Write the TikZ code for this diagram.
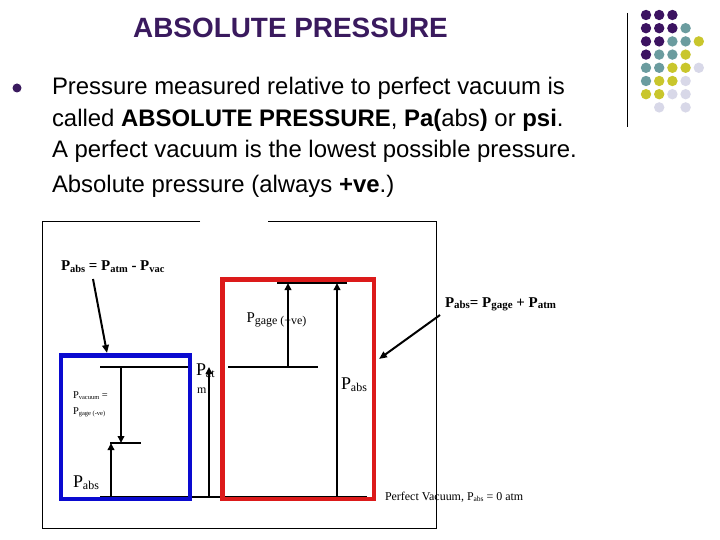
\documentclass[tikz,border=0pt]{standalone}
\usepackage{fontspec}
\setmainfont{Liberation Sans}
\newfontfamily\seriffam{Liberation Serif}
\usetikzlibrary{arrows.meta}
\definecolor{titlepurple}{HTML}{3A1A5E}
\definecolor{dP}{HTML}{3C1361}
\definecolor{dT}{HTML}{6B9C9F}
\definecolor{dY}{HTML}{C9C62C}
\definecolor{dL}{HTML}{D8D8E8}
\definecolor{boxblue}{HTML}{0A0AD0}
\definecolor{boxred}{HTML}{DC1A1A}
\newcommand{\fsz}[1]{\fontsize{#1}{#1}\selectfont}
\newcommand{\lowtxt}[3]{\raisebox{-#1}{\fsz{#2}#3}}
\begin{document}
\begin{tikzpicture}[x=1bp,y=-1bp,
  every node/.style={inner sep=0pt, outer sep=0pt},
  thinline/.style={line width=1.3bp, black},
  arr/.style={line width=2.6bp, black, -{Triangle[length=7bp,width=6.5bp]}},
  slantarr/.style={line width=2bp, black, -{Triangle[length=8bp,width=6.5bp]}},
  bodytxt/.style={anchor=base west, font=\fsz{24}},
  lbl/.style={anchor=base west, font=\seriffam}]
\useasboundingbox (0,0) rectangle (720,540);
\fill[white] (0,0) rectangle (720,540);

% title and text
\node[anchor=base, text=titlepurple, font=\fsz{28}\bfseries] (title) at (290.5,38) {ABSOLUTE PRESSURE};
\node[circle, fill=titlepurple, minimum size=9bp] (bullet) at (17,88) {};
\node[bodytxt] (l1) at (52,95) {Pressure measured relative to perfect vacuum is};
\node[bodytxt] (l2) at (52,127) {called \textbf{ABSOLUTE PRESSURE}, \textbf{Pa(}abs\textbf{)} or \textbf{psi}.};
\node[bodytxt] (l3) at (52,158) {A perfect vacuum is the lowest possible pressure.};
\node[bodytxt] (l4) at (52,193) {Absolute pressure (always \textbf{+ve}.)};

% decoration at right
\draw[line width=1bp, black] (627,13) -- (627,127);
\foreach \c/\r/\k in {1/1/dP,2/1/dP,3/1/dP,
  1/2/dP,2/2/dP,3/2/dP,4/2/dT,
  1/3/dP,2/3/dP,3/3/dT,4/3/dT,5/3/dY,
  1/4/dP,2/4/dT,3/4/dT,4/4/dY,
  1/5/dT,2/5/dT,3/5/dY,4/5/dY,5/5/dL,
  1/6/dT,2/6/dY,3/6/dY,4/6/dL,
  1/7/dY,2/7/dY,3/7/dL,4/7/dL,
  2/8/dL,4/8/dL}
  \fill[\k] ({646+(\c-1)*13.2},{15+(\r-1)*13.2}) circle (5.2bp);

% outer frame
\draw[line width=1bp] (200,222) -- (42,222) -- (42,528) -- (436,528) -- (436,222) -- (268,222);

% base line
\coordinate (bl) at (100,497);
\coordinate (br) at (367,497);
\draw[thinline] (bl) -- (br);

% boxes
\node[draw=boxblue, line width=4.5bp, minimum width=129bp, minimum height=143.5bp] (bluebox) at (125.5,427.25) {};
\node[draw=boxred, line width=4.5bp, minimum width=151.5bp, minimum height=219.5bp] (redbox) at (298.25,389.25) {};

% labels
\node[lbl, font=\seriffam\bfseries\fsz{15}] (eq1) at (61,271) {P\lowtxt{1.5bp}{10.5}{abs} = P\lowtxt{1.5bp}{10.5}{atm} - P\lowtxt{1.5bp}{10.5}{vac}};
\node[lbl, font=\seriffam\bfseries\fsz{15}] (eq2) at (445,307) {P\lowtxt{1.5bp}{11}{abs}= P\lowtxt{1.5bp}{11}{gage} + P\lowtxt{1.5bp}{11}{atm}};
\node[lbl, font=\seriffam\fsz{15}] (pgage) at (246.5,322) {P\lowtxt{2bp}{12}{gage (+ve)}};
\node[lbl, font=\seriffam\fsz{18}] (pabsred) at (341,389) {P\lowtxt{2.5bp}{12}{abs}};
\node[lbl, font=\seriffam\fsz{18}] (pabsblue) at (73,487) {P\lowtxt{2.5bp}{12}{abs}};
\node[lbl, font=\seriffam\fsz{18}] (patm) at (196,375) {P\lowtxt{2.5bp}{12}{at}};
\node[lbl, font=\seriffam\fsz{12}] (patmm) at (197,393) {m};
\node[lbl, font=\seriffam\fsz{10.5}] (pvac1) at (73,398) {P\lowtxt{1bp}{6.5}{vacuum} =};
\node[lbl, font=\seriffam\fsz{10.5}] (pvac2) at (73,414) {P\lowtxt{1bp}{6.5}{gage (-ve)}};
\node[lbl, font=\seriffam\fsz{12}] (perfvac) at (385,500) {Perfect Vacuum, P\lowtxt{1.5bp}{7.5}{abs} = 0 atm};

% level lines
\coordinate (atmL1) at (100,367);
\coordinate (atmR1) at (188,367);
\coordinate (atmL2) at (228,367);
\coordinate (atmR2) at (318,367);
\coordinate (vacL) at (110,443);
\coordinate (vacR) at (141,443);
\coordinate (topL) at (277,283);
\coordinate (topR) at (347,283);
\draw[thinline] (atmL1) -- (atmR1);
\draw[thinline] (atmL2) -- (atmR2);
\draw[thinline] (vacL) -- (vacR);
\draw[thinline] (topL) -- (topR);

% vertical arrows
\coordinate (a1s) at (121,367); \coordinate (a1e) at (121,443);
\coordinate (a2s) at (111,497); \coordinate (a2e) at (111,443);
\coordinate (a3s) at (209,497); \coordinate (a3e) at (209,367);
\coordinate (a4s) at (288,367); \coordinate (a4e) at (288,283);
\coordinate (a5s) at (337,497); \coordinate (a5e) at (337,283);
\draw[arr] (a1s) -- (a1e);
\draw[arr] (a2s) -- (a2e);
\draw[arr] (a3s) -- (a3e);
\draw[arr] (a4s) -- (a4e);
\draw[arr] (a5s) -- (a5e);

% slanted pointers
\coordinate (s1s) at (93,279); \coordinate (s1e) at (107,353);
\coordinate (s2s) at (440,315); \coordinate (s2e) at (379,359);
\draw[slantarr] (s1s) -- (s1e);
\draw[slantarr] (s2s) -- (s2e);
\end{tikzpicture}
\end{document}
